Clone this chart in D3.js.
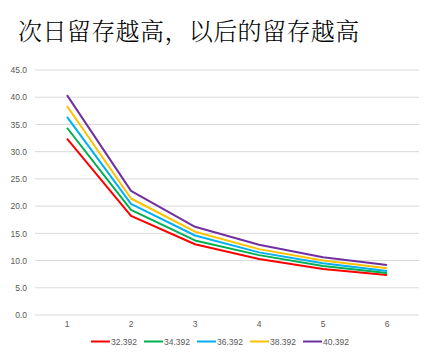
<!DOCTYPE html>
<html><head><meta charset="utf-8">
<script src="https://cdn.jsdelivr.net/npm/d3@7"></script>
<style>body{margin:0;background:#fff}svg{display:block}</style>
</head><body>
<script>
const title = "次日留存越高，以后的留存越高";
const categories = [1, 2, 3, 4, 5, 6];
const seriesNames = ["32.392", "34.392", "36.392", "38.392", "40.392"];
const s1 = [32.392, 18.2, 13.0, 10.3, 8.45, 7.35];
const s2 = [34.392, 19.3, 13.7, 11.0, 9.0, 7.7];
const s3 = [36.392, 20.4, 14.6, 11.5, 9.5, 8.1];
const s4 = [38.392, 21.4, 15.3, 12.1, 10.0, 8.6];
const s5 = [40.392, 22.8, 16.2, 12.9, 10.6, 9.2];
const yTicks = [0, 5, 10, 15, 20, 25, 30, 35, 40, 45];
const colors = ["#FF0000", "#00B050", "#00B0F0", "#FFC000", "#7030A0"];
const series = [s1, s2, s3, s4, s5];

const W = 438, H = 357;
const svg = d3.select("body").append("svg").attr("width", W).attr("height", H);

svg.append("text").attr("x", 18).attr("y", 40)
  .attr("font-family", "'Noto Serif CJK SC','Noto Sans CJK SC',serif")
  .attr("font-size", 24).attr("letter-spacing", 0.4).attr("font-weight", 300)
  .attr("fill", "#000").text(title);

const x = d3.scaleBand().domain(categories).range([35, 419]);
const y = d3.scaleLinear().domain([0, 45]).range([315, 70]);

const grid = svg.append("g");
grid.selectAll("line").data(yTicks).join("line")
  .attr("x1", 35).attr("x2", 419)
  .attr("y1", d => y(d)).attr("y2", d => y(d))
  .attr("stroke", "#d9d9d9").attr("stroke-width", 1);

const yAxis = svg.append("g").attr("transform", "translate(35,0)")
  .call(d3.axisLeft(y).tickValues(yTicks).tickFormat(d3.format(".1f")).tickSize(0).tickPadding(8));
yAxis.select(".domain").remove();
yAxis.selectAll("text").attr("font-family", "'Liberation Sans',Arial,sans-serif")
  .attr("font-size", 8.5).attr("fill", "#595959");

const xAxis = svg.append("g").attr("transform", "translate(0,315)")
  .call(d3.axisBottom(x).tickSize(0).tickPadding(6));
xAxis.select(".domain").remove();
xAxis.selectAll("text").attr("font-family", "'Liberation Sans',Arial,sans-serif")
  .attr("font-size", 8.5).attr("fill", "#595959");

const line = d3.line().x((d, i) => x(categories[i]) + x.bandwidth() / 2).y(d => y(d));
svg.append("g").selectAll("path").data(series).join("path")
  .attr("d", d => line(d)).attr("fill", "none")
  .attr("stroke", (d, i) => colors[i]).attr("stroke-width", 2)
  .attr("stroke-linejoin", "round");

const lg = svg.append("g");
seriesNames.forEach((n, i) => {
  const x0 = 91 + i * 53;
  lg.append("line").attr("x1", x0).attr("x2", x0 + 19).attr("y1", 341.5).attr("y2", 341.5)
    .attr("stroke", colors[i]).attr("stroke-width", 2);
  lg.append("text").attr("x", x0 + 20).attr("y", 344.5)
    .attr("font-family", "'Liberation Sans',Arial,sans-serif")
    .attr("font-size", 8.5).attr("fill", "#595959").text(n);
});
</script>
</body></html>
